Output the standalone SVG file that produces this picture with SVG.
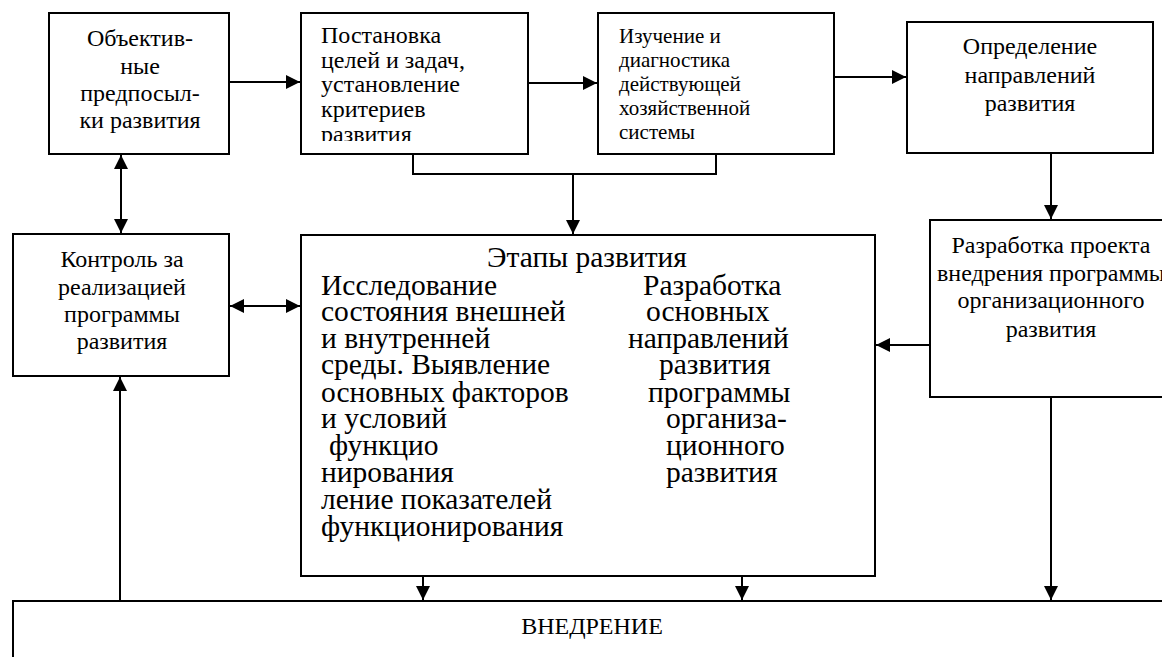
<svg xmlns="http://www.w3.org/2000/svg" width="1162" height="657" viewBox="0 0 1162 657" font-family="'Liberation Serif', 'Times New Roman', serif">
  <style>
    .box { fill: #ffffff; stroke: #000000; stroke-width: 2; }
    .wire { fill: none; stroke: #000000; stroke-width: 2; }
    text { font-family: "Liberation Serif", "Times New Roman", serif; fill: #000000; }
    .t24 { font-size: 24px; }
    .t21 { font-size: 21px; }
    .t29 { font-size: 29.5px; }
    .mid { text-anchor: middle; }
  </style>
  <defs>
    <marker id="arrow" markerUnits="userSpaceOnUse" markerWidth="15" markerHeight="15" refX="14" refY="7" orient="auto-start-reverse">
      <path d="M0,0 L14,7 L0,14 z" fill="#000000"/>
    </marker>
    <clipPath id="clip-goals">
      <rect x="301" y="13" width="227" height="128"/>
    </clipPath>
  </defs>

  <rect width="1162" height="657" fill="#ffffff"/>

  <!-- Connectors -->
  <g id="connectors">
    <line class="wire" x1="229" y1="82" x2="300" y2="82" marker-end="url(#arrow)"/>
    <line class="wire" x1="528" y1="83" x2="597" y2="83" marker-end="url(#arrow)"/>
    <line class="wire" x1="834" y1="77" x2="906" y2="77" marker-end="url(#arrow)"/>
    <line class="wire" x1="1051" y1="153" x2="1051" y2="219" marker-end="url(#arrow)"/>
    <polyline class="wire" points="413,154 413,174 716,174 716,154"/>
    <line class="wire" x1="573" y1="174" x2="573" y2="234" marker-end="url(#arrow)"/>
    <line class="wire" x1="121" y1="155" x2="121" y2="233" marker-start="url(#arrow)" marker-end="url(#arrow)"/>
    <line class="wire" x1="230" y1="306" x2="300" y2="306" marker-start="url(#arrow)" marker-end="url(#arrow)"/>
    <line class="wire" x1="930" y1="345" x2="876" y2="345" marker-end="url(#arrow)"/>
    <line class="wire" x1="423" y1="576" x2="423" y2="600" marker-end="url(#arrow)"/>
    <line class="wire" x1="742" y1="576" x2="742" y2="600" marker-end="url(#arrow)"/>
    <line class="wire" x1="1051" y1="397" x2="1051" y2="600" marker-end="url(#arrow)"/>
    <line class="wire" x1="120" y1="601" x2="120" y2="377" marker-end="url(#arrow)"/>
  </g>

  <!-- Objective preconditions -->
  <g id="node-preconditions">
    <rect class="box" x="49" y="13" width="180" height="141"/>
    <text class="t24 mid" x="140" y="46">Объектив-</text>
    <text class="t24 mid" x="140" y="74">ные</text>
    <text class="t24 mid" x="140" y="101">предпосыл-</text>
    <text class="t24 mid" x="140" y="128">ки развития</text>
  </g>

  <!-- Goals and criteria -->
  <g id="node-goals">
    <rect class="box" x="301" y="13" width="227" height="141"/>
    <g clip-path="url(#clip-goals)">
      <text class="t24" x="321" y="43">Постановка</text>
      <text class="t24" x="321" y="68">целей и задач,</text>
      <text class="t24" x="321" y="92">установление</text>
      <text class="t24" x="321" y="117">критериев</text>
      <text class="t24" x="321" y="142">развития</text>
    </g>
  </g>

  <!-- Diagnostics of the current system -->
  <g id="node-diagnostics">
    <rect class="box" x="598" y="13" width="236" height="141"/>
    <text class="t21" x="619" y="43">Изучение и</text>
    <text class="t21" x="619" y="67">диагностика</text>
    <text class="t21" x="619" y="91">действующей</text>
    <text class="t21" x="619" y="115">хозяйственной</text>
    <text class="t21" x="619" y="139">системы</text>
  </g>

  <!-- Directions of development -->
  <g id="node-directions">
    <rect class="box" x="907" y="22" width="246" height="131"/>
    <text class="t24 mid" x="1030" y="54">Определение</text>
    <text class="t24 mid" x="1030" y="83">направлений</text>
    <text class="t24 mid" x="1030" y="111">развития</text>
  </g>

  <!-- Implementation project -->
  <g id="node-project">
    <rect class="box" x="930" y="220" width="245" height="177"/>
    <text class="t24 mid" x="1051" y="253">Разработка проекта</text>
    <text class="t24 mid" x="1051" y="281">внедрения программы</text>
    <text class="t24 mid" x="1051" y="308">организационного</text>
    <text class="t24 mid" x="1051" y="337">развития</text>
  </g>

  <!-- Monitoring -->
  <g id="node-control">
    <rect class="box" x="13" y="234" width="216" height="142"/>
    <text class="t24 mid" x="122" y="267">Контроль за</text>
    <text class="t24 mid" x="122" y="295">реализацией</text>
    <text class="t24 mid" x="122" y="322">программы</text>
    <text class="t24 mid" x="122" y="349">развития</text>
  </g>

  <!-- Stages of development -->
  <g id="node-stages">
    <rect class="box" x="301" y="235" width="574" height="341"/>
    <text class="t29 mid" x="587" y="267">Этапы развития</text>
    <text class="t29" x="321" y="295">Исследование</text>
    <text class="t29" x="321" y="321">состояния внешней</text>
    <text class="t29" x="321" y="348">и внутренней</text>
    <text class="t29" x="321" y="374">среды. Выявление</text>
    <text class="t29" x="321" y="402">основных факторов</text>
    <text class="t29" x="321" y="428">и условий</text>
    <text class="t29" x="329" y="455">функцио</text>
    <text class="t29" x="321" y="482">нирования</text>
    <text class="t29" x="321" y="509">ление показателей</text>
    <text class="t29" x="321" y="536">функционирования</text>
    <text class="t29" x="643" y="295">Разработка</text>
    <text class="t29" x="646" y="321">основных</text>
    <text class="t29" x="628" y="348">направлений</text>
    <text class="t29" x="659" y="374">развития</text>
    <text class="t29" x="648" y="402">программы</text>
    <text class="t29" x="666" y="428">организа-</text>
    <text class="t29" x="666" y="455">ционного</text>
    <text class="t29" x="666" y="482">развития</text>
  </g>

  <!-- Implementation -->
  <g id="node-implementation">
    <rect class="box" x="13" y="601" width="1170" height="80"/>
    <text class="t24 mid" x="592" y="634">ВНЕДРЕНИЕ</text>
  </g>
</svg>
